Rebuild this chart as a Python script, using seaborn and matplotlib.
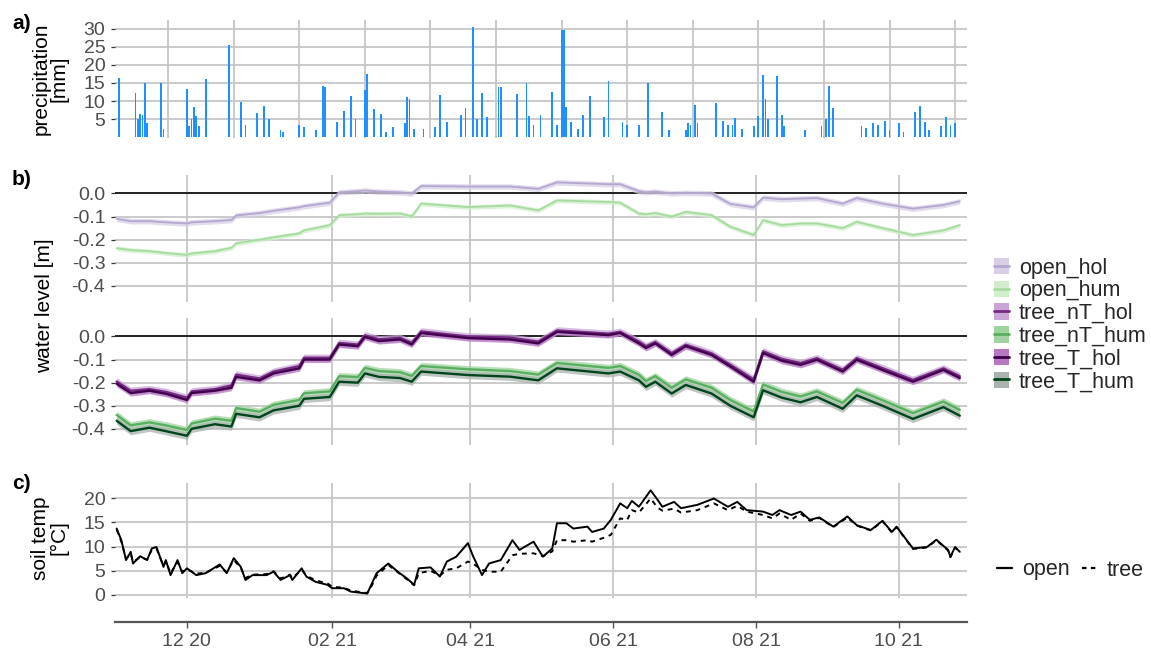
import numpy as np
import pandas as pd
import matplotlib
matplotlib.use("Agg")
import matplotlib.pyplot as plt
from matplotlib.lines import Line2D
from matplotlib.patches import Patch
import seaborn as sns

# ---------------- data ----------------
START = pd.Timestamp("2020-11-01")

# a) precipitation: day offset from START, mm
precip_day = [1, 8, 9, 10, 11, 12, 13, 19, 20, 30, 31, 32, 33, 34, 35, 38, 48, 53, 55, 60, 63, 65, 70, 71,
              78, 80, 85, 88, 89, 94, 97, 100, 102, 106, 107, 110, 113, 115, 118, 123, 124, 125, 127, 131,
              136, 138, 141, 147, 149, 152, 154, 156, 158, 163, 164, 171, 175, 176, 178, 181, 186, 188, 190,
              191, 192, 194, 197, 199, 202, 208, 210, 216, 218, 223, 227, 233, 236, 243, 244, 245, 247, 248,
              256, 259, 261, 263, 264, 267, 272, 274, 276, 277, 278, 282, 284, 285, 294, 301, 303, 304, 306,
              318, 320, 323, 325, 328, 330, 334, 336, 341, 343, 345, 347, 352, 354, 356, 358]
precip_mm = [16.3, 12.1, 5.0, 6.5, 6.1, 14.9, 4.0, 14.9, 2.4, 13.3, 3.0, 5.0, 8.4, 6.0, 3.0, 16.0, 25.5, 9.8,
             3.3, 6.8, 8.7, 5.0, 2.0, 1.5, 3.3, 2.9, 2.0, 14.3, 14.0, 4.3, 7.2, 11.5, 5.0, 13.0, 17.4, 7.8,
             6.3, 1.5, 2.9, 4.0, 11.2, 10.7, 2.4, 2.4, 2.9, 11.7, 4.3, 6.1, 8.0, 30.6, 5.0, 12.1, 5.6, 14.0,
             14.0, 11.9, 14.9, 6.0, 3.3, 6.1, 12.4, 3.3, 29.7, 29.7, 8.4, 4.3, 2.4, 6.1, 11.5, 5.6, 15.6, 4.3,
             3.3, 3.3, 14.9, 7.0, 2.0, 2.0, 4.0, 3.5, 8.9, 4.0, 9.6, 4.5, 3.5, 3.5, 5.2, 2.4, 3.0, 6.0, 17.2,
             10.7, 5.0, 17.0, 6.1, 3.0, 2.0, 3.0, 5.0, 14.3, 8.0, 3.0, 2.5, 4.0, 3.5, 4.5, 2.0, 4.0, 1.5, 7.0,
             8.7, 4.3, 2.0, 3.0, 5.6, 3.5, 4.0]

# b) water level [m]
wl_dates = ["2020-11-01", "2020-11-07", "2020-11-15", "2020-11-22", "2020-12-01", "2020-12-03", "2020-12-13",
            "2020-12-20", "2020-12-22", "2021-01-01", "2021-01-07", "2021-01-18", "2021-01-20", "2021-01-31",
            "2021-02-04", "2021-02-12", "2021-02-15", "2021-02-21", "2021-03-02", "2021-03-07", "2021-03-11",
            "2021-03-31", "2021-04-18", "2021-04-30", "2021-05-08", "2021-05-30", "2021-06-04", "2021-06-12",
            "2021-06-15", "2021-06-19", "2021-06-26", "2021-07-02", "2021-07-13", "2021-07-21", "2021-07-31",
            "2021-08-04", "2021-08-12", "2021-08-20", "2021-08-27", "2021-09-07", "2021-09-13", "2021-09-24",
            "2021-10-07", "2021-10-20", "2021-10-27"]
open_hol = [-0.110, -0.120, -0.120, -0.125, -0.130, -0.125, -0.120, -0.115, -0.095, -0.085, -0.075, -0.060,
            -0.055, -0.040, 0.005, 0.010, 0.013, 0.008, 0.005, 0.000, 0.032, 0.030, 0.030, 0.020, 0.048, 0.040,
            0.040, 0.010, 0.005, 0.008, 0.000, 0.003, 0.000, -0.045, -0.060, -0.018, -0.025, -0.022, -0.020,
            -0.044, -0.020, -0.044, -0.066, -0.050, -0.034]
open_hum = [-0.237, -0.245, -0.250, -0.258, -0.266, -0.260, -0.250, -0.235, -0.216, -0.200, -0.190, -0.173,
            -0.160, -0.137, -0.094, -0.090, -0.087, -0.088, -0.087, -0.099, -0.044, -0.059, -0.052, -0.073,
            -0.030, -0.037, -0.040, -0.087, -0.090, -0.085, -0.100, -0.080, -0.094, -0.144, -0.180, -0.116,
            -0.137, -0.130, -0.130, -0.150, -0.123, -0.150, -0.180, -0.160, -0.137]
tree_nT_hol = [-0.195, -0.235, -0.228, -0.240, -0.265, -0.238, -0.228, -0.212, -0.165, -0.182, -0.152, -0.128,
               -0.092, -0.092, -0.028, -0.035, 0.005, -0.012, -0.006, -0.027, 0.022, 0.000, -0.005, -0.022,
               0.026, 0.012, 0.020, -0.022, -0.042, -0.024, -0.072, -0.036, -0.073, -0.122, -0.186, -0.064,
               -0.097, -0.115, -0.094, -0.144, -0.094, -0.137, -0.188, -0.138, -0.172]
tree_nT_hum = [-0.340, -0.385, -0.372, -0.385, -0.405, -0.377, -0.356, -0.365, -0.310, -0.326, -0.296, -0.275,
               -0.246, -0.238, -0.172, -0.176, -0.136, -0.150, -0.155, -0.171, -0.128, -0.142, -0.150, -0.165,
               -0.115, -0.136, -0.128, -0.166, -0.193, -0.172, -0.222, -0.186, -0.222, -0.275, -0.325, -0.208,
               -0.240, -0.260, -0.238, -0.288, -0.231, -0.276, -0.332, -0.282, -0.318]
tree_T_hol = [-0.205, -0.245, -0.235, -0.248, -0.275, -0.245, -0.235, -0.222, -0.175, -0.190, -0.160, -0.138,
              -0.100, -0.100, -0.035, -0.042, -0.002, -0.020, -0.013, -0.035, 0.015, -0.007, -0.013, -0.030,
              0.020, 0.006, 0.015, -0.030, -0.050, -0.030, -0.080, -0.042, -0.080, -0.130, -0.196, -0.072,
              -0.105, -0.123, -0.101, -0.152, -0.101, -0.145, -0.196, -0.145, -0.180]
tree_T_hum = [-0.365, -0.410, -0.395, -0.410, -0.430, -0.400, -0.380, -0.390, -0.335, -0.350, -0.320, -0.300,
              -0.270, -0.262, -0.196, -0.200, -0.160, -0.175, -0.180, -0.196, -0.152, -0.167, -0.174, -0.190,
              -0.138, -0.160, -0.152, -0.190, -0.218, -0.196, -0.247, -0.210, -0.247, -0.300, -0.350, -0.233,
              -0.265, -0.285, -0.262, -0.313, -0.255, -0.300, -0.357, -0.306, -0.343]
wl_spread = {"open_hol": 0.012, "open_hum": 0.010, "tree_nT_hol": 0.016,
             "tree_nT_hum": 0.016, "tree_T_hol": 0.013, "tree_T_hum": 0.016}

# c) soil temperature [°C]
soil_day = [0, 2, 4, 6, 7, 10, 13, 15, 17, 20, 21, 23, 26, 28, 30, 34, 38, 44, 47, 50, 53, 55, 58, 64, 67, 70,
            74, 75, 79, 81, 85, 90, 92, 97, 100, 107, 109, 111, 116, 120, 124, 127, 129, 134, 138, 141, 145, 150,
            152, 156, 159, 164, 169, 172, 178, 182, 186, 188, 192, 195, 201, 203, 208, 211, 215, 218, 220, 223,
            228, 231, 233, 238, 241, 248, 255, 261, 265, 269, 276, 280, 283, 288, 292, 296, 300, 306, 312, 316,
            322, 327, 331, 333, 340, 346, 350, 355, 356, 358, 360]
soil_open = [13.7, 11.3, 7.2, 8.9, 6.5, 8.0, 7.2, 9.6, 9.9, 5.8, 7.2, 4.1, 7.2, 4.5, 5.5, 4.1, 4.5, 6.3, 4.5, 7.6,
             5.8, 3.1, 4.1, 4.1, 4.8, 3.1, 4.1, 3.1, 5.5, 3.8, 2.7, 2.1, 1.4, 1.4, 0.7, 0.3, 2.4, 4.5, 6.5, 4.8,
             3.4, 2.1, 5.5, 5.7, 3.8, 6.9, 7.9, 10.7, 8.2, 4.1, 6.5, 7.2, 11.3, 9.3, 11.0, 7.9, 9.6, 14.8, 14.8,
             13.7, 14.1, 13.0, 13.7, 15.5, 18.9, 17.9, 19.4, 18.2, 21.6, 19.6, 18.2, 19.2, 17.9, 18.6, 19.9, 18.2,
             19.2, 17.5, 17.2, 16.5, 17.5, 16.5, 17.2, 15.5, 16.0, 14.1, 16.2, 14.4, 13.4, 15.3, 13.0, 14.1, 9.6,
             9.9, 11.4, 9.3, 7.9, 9.9, 8.9]
soil_tree = [13.5, 11.0, 7.5, 8.5, 6.8, 7.8, 7.3, 9.3, 9.6, 6.0, 7.0, 4.5, 6.8, 4.8, 5.3, 4.4, 4.6, 6.0, 4.7, 7.2,
             5.6, 3.5, 4.2, 4.3, 4.9, 3.4, 4.2, 3.5, 5.2, 4.0, 3.0, 2.4, 1.7, 1.5, 0.9, 0.4, 2.0, 4.0, 6.2, 4.7,
             3.2, 2.0, 4.5, 5.0, 4.0, 5.2, 5.5, 6.9, 6.5, 5.2, 4.8, 4.8, 8.2, 8.5, 8.6, 8.0, 9.0, 11.3, 11.3,
             11.0, 11.3, 11.0, 11.8, 12.4, 15.8, 15.5, 17.5, 17.0, 19.9, 18.0, 17.4, 17.8, 17.0, 17.5, 18.9, 17.5,
             18.4, 17.2, 16.5, 15.8, 16.8, 15.5, 16.8, 15.3, 15.9, 14.0, 16.0, 14.3, 13.3, 15.2, 12.9, 14.0, 9.5,
             9.8, 11.3, 9.2, 7.8, 9.8, 8.8]

# axis ticks
tick_dates = ["2020-12-01", "2021-02-01", "2021-04-01", "2021-06-01", "2021-08-01", "2021-10-01"]
tick_labels = ["12 20", "02 21", "04 21", "06 21", "08 21", "10 21"]
precip_yticks = [5, 10, 15, 20, 25, 30]
wl_yticks = [0.0, -0.1, -0.2, -0.3, -0.4]
soil_yticks = [0, 5, 10, 15, 20]

# ---------------- style ----------------
sns.set_theme(style="white")
plt.rcParams["font.family"] = ["Liberation Sans", "DejaVu Sans"]
plt.rcParams["axes.unicode_minus"] = False

W, H = 1151, 653
fig = plt.figure(figsize=(W / 100, H / 100), dpi=100)
fig.patch.set_facecolor("white")

XL, XR = 115, 967
xlim = (pd.Timestamp("2020-10-31 07:00"), pd.Timestamp("2021-10-30 02:00"))
GRID = "#c6c6c6"
TICKC = "#4d4d4d"
TFS = 14
LFS = 15


def add_ax(top, bottom):
    return fig.add_axes([XL / W, 1 - bottom / H, (XR - XL) / W, (bottom - top) / H])


def style_ax(ax, yticks, ylabels, xgrid):
    ax.set_facecolor("white")
    for s in ax.spines.values():
        s.set_visible(False)
    ax.set_xlim(*xlim)
    ax.set_yticks(yticks)
    ax.set_yticklabels(ylabels)
    ax.set_xticks(pd.to_datetime(xgrid))
    ax.grid(True, axis="both", color=GRID, linewidth=1.3)
    ax.set_axisbelow(True)
    ax.tick_params(axis="y", left=True, length=3, width=0.9, color="#333333",
                   labelsize=TFS, labelcolor=TICKC, pad=4)
    ax.tick_params(axis="x", bottom=False, labelbottom=False, length=0)
    ax.set_xlabel("")
    ax.set_ylabel("")


# ---- a) precipitation ----
axa = add_ax(20, 138)
p_dates = START + pd.to_timedelta(precip_day, unit="D")
axa.bar(p_dates, precip_mm, width=0.75, color="#1e90ff", linewidth=0, zorder=3)
style_ax(axa, precip_yticks, [str(v) for v in precip_yticks],
         pd.date_range("2020-11-23", periods=13, freq="28D"))
axa.set_ylim(-0.2, 32.4)

# ---- b) water level ----
wl = pd.DataFrame({"date": pd.to_datetime(wl_dates), "open_hol": open_hol, "open_hum": open_hum,
                   "tree_nT_hol": tree_nT_hol, "tree_nT_hum": tree_nT_hum,
                   "tree_T_hol": tree_T_hol, "tree_T_hum": tree_T_hum})
line_col = {"open_hol": "#b4a6cf", "open_hum": "#a6dba0", "tree_nT_hol": "#762a83",
            "tree_nT_hum": "#5aae61", "tree_T_hol": "#40004b", "tree_T_hum": "#00441b"}
fill_col = {"open_hol": "#d8cfe6", "open_hum": "#cfeec9", "tree_nT_hol": "#c9a6d6",
            "tree_nT_hum": "#9fd49f", "tree_T_hol": "#b777c4", "tree_T_hum": "#a9b3ad"}
line_w = {"open_hol": 1.3, "open_hum": 1.3, "tree_nT_hol": 1.7, "tree_nT_hum": 1.7,
          "tree_T_hol": 1.7, "tree_T_hum": 1.7}

axb1 = add_ax(175, 302)
axb2 = add_ax(318, 445)
yl = ["0.0", "-0.1", "-0.2", "-0.3", "-0.4"]
for ax, names in [(axb1, ["open_hol", "open_hum"]),
                  (axb2, ["tree_nT_hol", "tree_T_hol", "tree_nT_hum", "tree_T_hum"])]:
    style_ax(ax, wl_yticks, yl, tick_dates)
    ax.set_ylim(-0.47, 0.08)
    ax.axhline(0, color="#222222", linewidth=1.4, zorder=2)
    for n in names:
        sp = wl_spread[n]
        ax.fill_between(wl["date"], wl[n] - sp, wl[n] + sp, color=fill_col[n], alpha=0.75,
                        linewidth=0, zorder=3)
    for n in names:
        sns.lineplot(data=wl, x="date", y=n, ax=ax, color=line_col[n], linewidth=line_w[n], zorder=4)
    ax.set_xlabel("")
    ax.set_ylabel("")

# ---- c) soil temperature ----
axc = add_ax(483, 598)
soil = pd.DataFrame({"date": START + pd.to_timedelta(soil_day, unit="D"),
                     "open": soil_open, "tree": soil_tree})
soil_long = soil.melt(id_vars="date", var_name="site", value_name="temp")
style_ax(axc, soil_yticks, [str(v) for v in soil_yticks], tick_dates)
sns.lineplot(data=soil_long, x="date", y="temp", style="site", dashes={"open": "", "tree": (2.5, 2.5)},
             color="black", linewidth=1.4, ax=axc, legend=False, zorder=4)
axc.set_ylim(-0.62, 23.1)
axc.set_xlabel("")
axc.set_ylabel("")
axc.spines["bottom"].set_visible(True)
axc.spines["bottom"].set_position(("outward", 17.3))
axc.spines["bottom"].set_color("#555555")
axc.spines["bottom"].set_linewidth(1.6)
axc.set_xticks(pd.to_datetime(tick_dates))
axc.set_xticklabels(tick_labels)
axc.tick_params(axis="x", bottom=True, labelbottom=True, length=4, width=1.0, color="#555555",
                labelsize=TFS, labelcolor=TICKC, pad=4)

# ---- labels ----
def ftxt(x, y, s, **kw):
    fig.text(x / W, 1 - y / H, s, **kw)

ftxt(12, 14, "a)", fontsize=LFS, fontweight="bold", va="top", ha="left", color="black")
ftxt(12, 170, "b)", fontsize=LFS, fontweight="bold", va="top", ha="left", color="black")
ftxt(12, 474, "c)", fontsize=LFS, fontweight="bold", va="top", ha="left", color="black")
ftxt(50, 79, "precipitation\n[mm]", fontsize=LFS, rotation=90, ha="center", va="center",
     linespacing=0.95, color="black")
ftxt(45, 306, "water level [m]", fontsize=LFS, rotation=90, ha="center", va="center", color="black")
ftxt(50, 538, "soil temp\n[°C]", fontsize=LFS, rotation=90, ha="center", va="center",
     linespacing=0.95, color="black")

# ---- legends ----
order = ["open_hol", "open_hum", "tree_nT_hol", "tree_nT_hum", "tree_T_hol", "tree_T_hum"]
handles = [(Patch(facecolor=fill_col[n], edgecolor="none"),
            Line2D([], [], color=line_col[n], linewidth=2.0)) for n in order]
fig.legend(handles, order, loc="center left", bbox_to_anchor=(994 / W, 1 - 325 / H), frameon=False,
           fontsize=15.5, handlelength=0.7, handleheight=0.8, handletextpad=0.45, labelspacing=0.08,
           borderpad=0, borderaxespad=0)

lh = [Line2D([], [], color="black", linewidth=1.6),
      Line2D([], [], color="black", linewidth=1.6, dashes=(2, 2))]
fig.legend(lh, ["open", "tree"], loc="center left", bbox_to_anchor=(997 / W, 1 - 570 / H), frameon=False,
           fontsize=15.5, ncol=2, handlelength=0.7, handletextpad=0.45, columnspacing=0.6,
           borderpad=0, borderaxespad=0)

fig.savefig("out.png", dpi=100, facecolor="white")
